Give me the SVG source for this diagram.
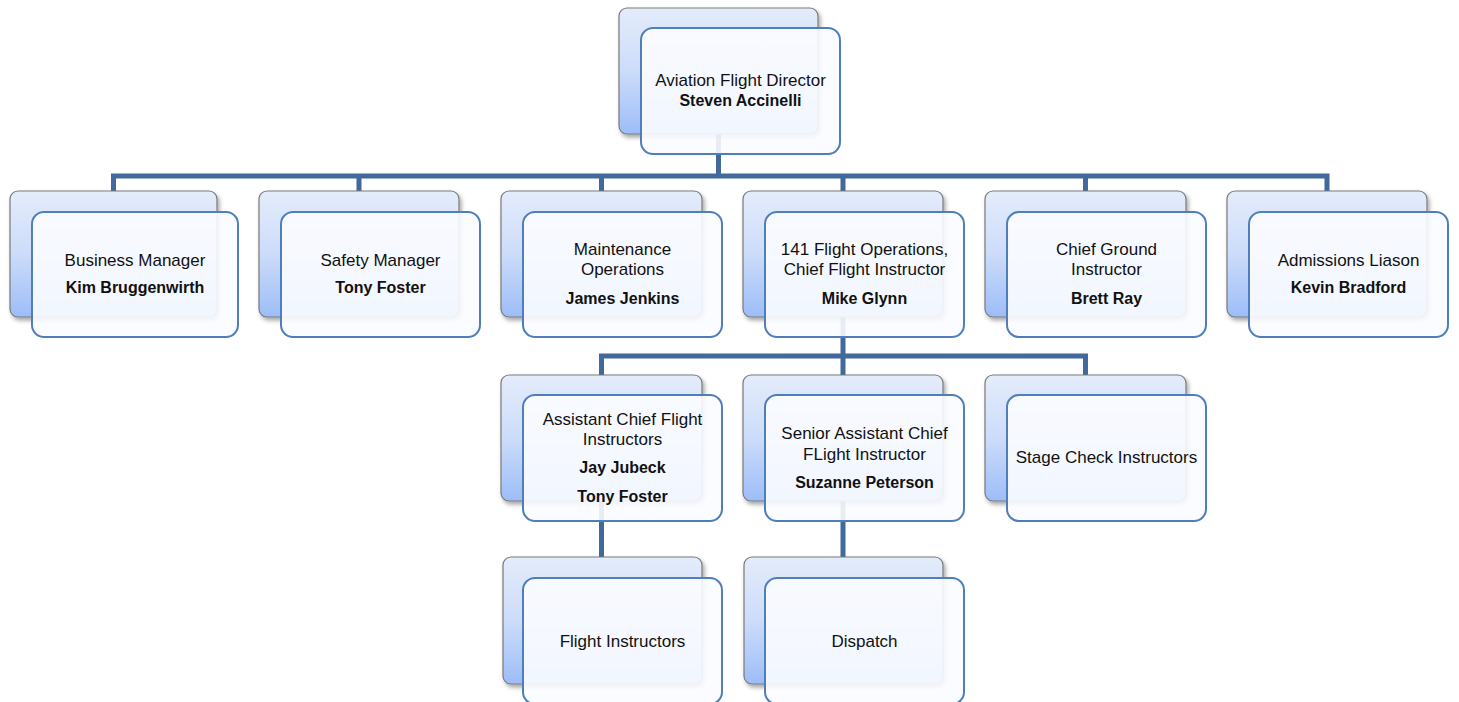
<svg xmlns="http://www.w3.org/2000/svg" width="1459" height="702" viewBox="0 0 1459 702">
<defs>
<linearGradient id="bg" x1="0" y1="0" x2="0" y2="1">
<stop offset="0" stop-color="#e4ecfb"/>
<stop offset="0.5" stop-color="#ccdcfa"/>
<stop offset="1" stop-color="#9dbdf8"/>
</linearGradient>
<filter id="sh" x="-10%" y="-10%" width="125%" height="130%">
<feDropShadow dx="2" dy="3" stdDeviation="2" flood-color="#000" flood-opacity="0.35"/>
</filter>
</defs>
<style>
.back{fill:url(#bg);stroke:#7a7a7a;stroke-width:1.2;filter:url(#sh)}
.front{fill:#fbfcff;fill-opacity:0.9;stroke:#4f7fba;stroke-width:2}
.conn{fill:none;stroke:#41699c;stroke-width:5;stroke-linejoin:miter}
text{font-family:"Liberation Sans",Arial,sans-serif;font-size:17px;fill:#111;text-anchor:middle}
.b{font-weight:bold;font-size:16px}
</style>
<rect width="1459" height="702" fill="#ffffff"/>
<g id="connectors">
<path class="conn" d="M718.5,134 V176"/>
<path class="conn" d="M113.5,191 V176 H1327 V191"/>
<path class="conn" d="M359,176 V191"/>
<path class="conn" d="M601.5,176 V191"/>
<path class="conn" d="M843,176 V191"/>
<path class="conn" d="M1085.5,176 V191"/>
<path class="conn" d="M843,317 V356"/>
<path class="conn" d="M601.5,375 V356 H1085.5 V375"/>
<path class="conn" d="M843,356 V375"/>
<path class="conn" d="M601.5,501 V557"/>
<path class="conn" d="M843,501 V557"/>
</g>
<g id="node-director">
<rect class="back" x="619" y="8" width="199" height="126" rx="8"/>
<rect class="front" x="641" y="28" width="199" height="126" rx="12"/>
<text x="740.5" y="86">Aviation Flight Director</text>
<text class="b" x="740.5" y="106">Steven Accinelli</text>
</g>
<g id="node-business">
<rect class="back" x="10" y="191" width="207" height="126" rx="8"/>
<rect class="front" x="32" y="212" width="206" height="125" rx="12"/>
<text x="135" y="266">Business Manager</text>
<text class="b" x="135" y="293">Kim Bruggenwirth</text>
</g>
<g id="node-safety">
<rect class="back" x="259" y="191" width="200" height="126" rx="8"/>
<rect class="front" x="281" y="212" width="199" height="125" rx="12"/>
<text x="380.5" y="266">Safety Manager</text>
<text class="b" x="380.5" y="293">Tony Foster</text>
</g>
<g id="node-maintenance">
<rect class="back" x="501" y="191" width="201" height="126" rx="8"/>
<rect class="front" x="523" y="212" width="199" height="125" rx="12"/>
<text x="622.5" y="255">Maintenance</text>
<text x="622.5" y="275">Operations</text>
<text class="b" x="622.5" y="304">James Jenkins</text>
</g>
<g id="node-141">
<rect class="back" x="743" y="191" width="200" height="126" rx="8"/>
<rect class="front" x="765" y="212" width="199" height="125" rx="12"/>
<text x="864.5" y="255">141 Flight Operations,</text>
<text x="864.5" y="275">Chief Flight Instructor</text>
<text class="b" x="864.5" y="304">Mike Glynn</text>
</g>
<g id="node-ground">
<rect class="back" x="985" y="191" width="201" height="126" rx="8"/>
<rect class="front" x="1007" y="212" width="199" height="125" rx="12"/>
<text x="1106.5" y="255">Chief Ground</text>
<text x="1106.5" y="275">Instructor</text>
<text class="b" x="1106.5" y="304">Brett Ray</text>
</g>
<g id="node-admissions">
<rect class="back" x="1227" y="191" width="200" height="126" rx="8"/>
<rect class="front" x="1249" y="212" width="199" height="125" rx="12"/>
<text x="1348.5" y="266">Admissions Liason</text>
<text class="b" x="1348.5" y="293">Kevin Bradford</text>
</g>
<g id="node-assistant">
<rect class="back" x="501" y="375" width="201" height="126" rx="8"/>
<rect class="front" x="523" y="395" width="199" height="126" rx="12"/>
<text x="622.5" y="425">Assistant Chief Flight</text>
<text x="622.5" y="445">Instructors</text>
<text class="b" x="622.5" y="473">Jay Jubeck</text>
<text class="b" x="622.5" y="502">Tony Foster</text>
</g>
<g id="node-senior">
<rect class="back" x="743" y="375" width="200" height="126" rx="8"/>
<rect class="front" x="765" y="395" width="199" height="126" rx="12"/>
<text x="864.5" y="439">Senior Assistant Chief</text>
<text x="864.5" y="460">FLight Instructor</text>
<text class="b" x="864.5" y="488">Suzanne Peterson</text>
</g>
<g id="node-stage">
<rect class="back" x="985" y="375" width="201" height="126" rx="8"/>
<rect class="front" x="1007" y="395" width="199" height="126" rx="12"/>
<text x="1106.5" y="463">Stage Check Instructors</text>
</g>
<g id="node-flight-instructors">
<rect class="back" x="503" y="557" width="199" height="127" rx="8"/>
<rect class="front" x="523" y="578" width="199" height="126" rx="12"/>
<text x="622.5" y="647">Flight Instructors</text>
</g>
<g id="node-dispatch">
<rect class="back" x="744" y="557" width="199" height="127" rx="8"/>
<rect class="front" x="765" y="578" width="199" height="126" rx="12"/>
<text x="864.5" y="647">Dispatch</text>
</g>
</svg>
